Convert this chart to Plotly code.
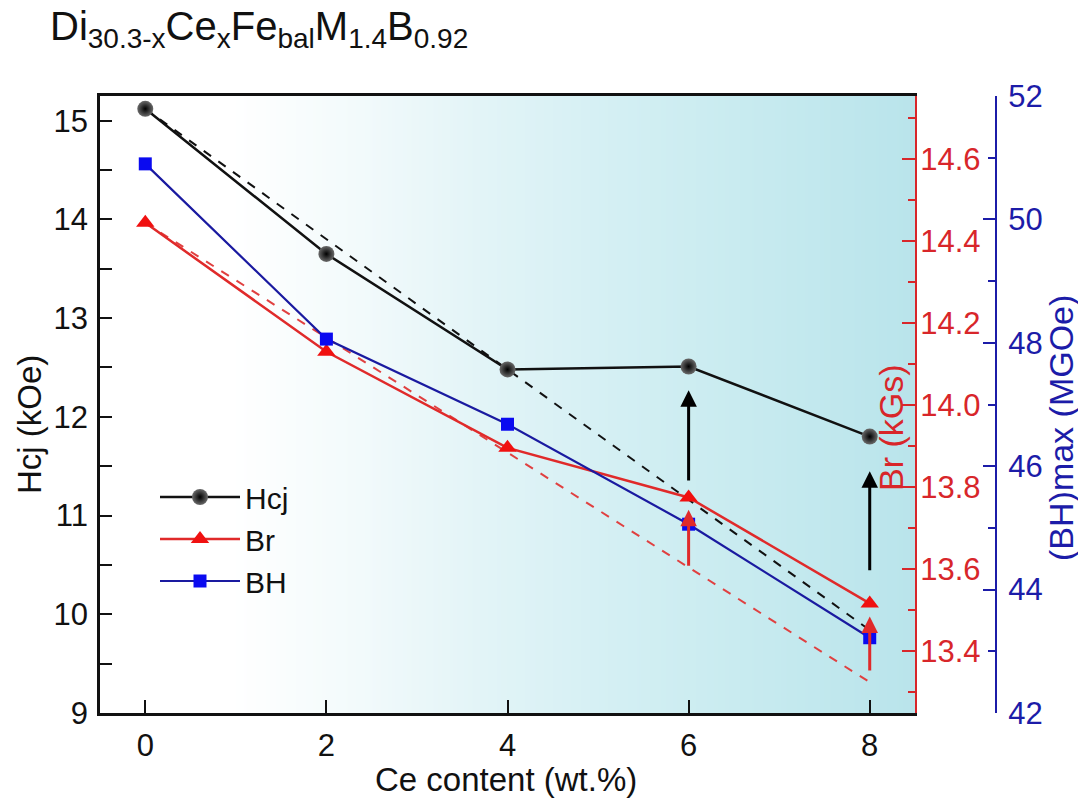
import numpy as np
import plotly.graph_objects as go

# ---------------- data ----------------
ce_content = [0, 2, 4, 6, 8]
hcj = [15.12, 13.65, 12.48, 12.51, 11.80]          # kOe (left axis)
br = [14.444, 14.13, 13.896, 13.775, 13.517]        # kGs (red axis)
bh = [50.90, 48.06, 46.68, 45.06, 43.22]            # MGOe (blue axis)

hcj_trend_x = [0, 8]
hcj_trend = [15.12, 9.84]
br_trend_x = [0, 8]
br_trend = [14.444, 13.325]

arrow_x = [6, 8]
hcj_arrow_from = [11.34, 10.43]
hcj_arrow_to = [12.27, 11.45]
br_arrow_from = [13.605, 13.35]
br_arrow_to = [13.745, 13.485]

x_ticks = [0, 2, 4, 6, 8]
title_text = "Di<sub>30.3-x</sub>Ce<sub>x</sub>Fe<sub>bal</sub>M<sub>1.4</sub>B<sub>0.92</sub>"

# ---------------- layout geometry ----------------
OFF = 8                      # page body margin
W, H = 1086 - OFF, 800 - OFF
L = 100 - OFF
T = 96 - OFF
plot_right = 915 - OFF
plot_bottom = 713 - OFF
B = H - plot_bottom
R = 50
pw = W - L - R
ph = H - T - B
blue_axis_px = 996 - OFF


def px(xp):
    """reference-window x pixel -> paper x"""
    return (xp - OFF - L) / pw


def py(yp):
    """reference-window y pixel -> paper y"""
    return (plot_bottom - (yp - OFF)) / ph


FONT = "Liberation Sans, Arial, sans-serif"
RED = "#d8262a"
BLUE = "#1c1ca8"
XR = [-0.5, 8.5]
Y1R = [9, 15.25]
Y2R = [13.25, 14.753]
Y3R = [42, 52]

fig = go.Figure()

# background gradient (decoration)
edges = np.linspace(XR[0], XR[1], 181)
centers = (edges[:-1] + edges[1:]) / 2
fig.add_trace(go.Heatmap(
    x=edges, y=Y1R, z=[centers], zsmooth="best",
    colorscale=[[0, "#ffffff"], [0.16, "#ffffff"], [0.32, "#f2fafb"],
                [0.47, "#e2f4f7"], [0.64, "#d3eff3"], [0.82, "#c6eaef"], [1, "#b9e4eb"]],
    zmin=XR[0], zmax=XR[1], showscale=False, hoverinfo="skip",
    xaxis="x", yaxis="y"))

# dashed trend lines
fig.add_trace(go.Scatter(x=hcj_trend_x, y=hcj_trend, mode="lines",
                         line=dict(color="#111111", width=2, dash="dash"),
                         showlegend=False, yaxis="y", hoverinfo="skip"))
fig.add_trace(go.Scatter(x=br_trend_x, y=br_trend, mode="lines",
                         line=dict(color="#e04040", width=2, dash="dash"),
                         showlegend=False, yaxis="y2", hoverinfo="skip"))

# main series
fig.add_trace(go.Scatter(
    x=ce_content, y=hcj, name="Hcj", mode="lines+markers", yaxis="y",
    legendgroup="a",
    line=dict(color="#111111", width=2.5),
    marker=dict(symbol="circle", size=16, color="#6a6a6a",
                gradient=dict(type="radial", color="#000000"),
                line=dict(width=0))))
fig.add_trace(go.Scatter(
    x=ce_content, y=br, name="Br", mode="lines+markers", yaxis="y2",
    legendgroup="b",
    line=dict(color="#e02a2a", width=2.5),
    marker=dict(symbol="triangle-up", size=16, color="#f01010", line=dict(width=0))))
fig.add_trace(go.Scatter(
    x=ce_content, y=bh, name="BH", mode="lines+markers", yaxis="y3",
    legendgroup="c",
    line=dict(color="#1a1aa0", width=2.2),
    marker=dict(symbol="square", size=13, color="#0a0af0", line=dict(width=0))))

annotations = []
for xa, y0, y1 in zip(arrow_x, hcj_arrow_from, hcj_arrow_to):
    annotations.append(dict(x=xa, y=y1, ax=xa, ay=y0, xref="x", yref="y",
                            axref="x", ayref="y", text="", showarrow=True,
                            arrowhead=2, arrowsize=1.1, arrowwidth=3,
                            arrowcolor="#000000"))
for xa, y0, y1 in zip(arrow_x, br_arrow_from, br_arrow_to):
    annotations.append(dict(x=xa, y=y1, ax=xa, ay=y0, xref="x", yref="y2",
                            axref="x", ayref="y2", text="", showarrow=True,
                            arrowhead=2, arrowsize=1.1, arrowwidth=3,
                            arrowcolor="#e02a2a"))

# axis titles as annotations
def title_ann(text, x, y, color, angle, size):
    return dict(text=text, x=px(x), y=py(y), xref="paper", yref="paper",
                xanchor="center", yanchor="middle", showarrow=False,
                textangle=angle, font=dict(size=size, color=color, family=FONT))


annotations += [
    title_ann("Hcj (kOe)", 29, 425, "#111111", -90, 33),
    title_ann("Br (kGs)", 891, 428, RED, -90, 34),
    title_ann("(BH)max (MGOe)", 1061, 428, BLUE, -90, 34),
    title_ann("Ce content (wt.%)", 506, 780, "#111111", 0, 33),
]

tickfont = dict(size=31, family=FONT, color="#111111")

fig.update_layout(
    width=W, height=H,
    margin=dict(l=L, r=R, t=T, b=B, autoexpand=False),
    paper_bgcolor="white",
    plot_bgcolor="white",
    font=dict(family=FONT, color="#111111"),
    title=dict(text=title_text, x=(50 - OFF) / W, xanchor="left", xref="container",
               y=1 - (12 - OFF) / H, yanchor="top", yref="container", automargin=False,
               font=dict(size=40, family=FONT, color="#111111")),
    xaxis=dict(domain=[0, (plot_right - L) / pw], range=XR, tickvals=x_ticks, automargin=False,
               showline=True, linecolor="#111111", linewidth=2.5, mirror=True,
               ticks="inside", ticklen=13, tickwidth=2, tickcolor="#111111",
               tickfont=tickfont, ticklabelstandoff=3, showgrid=False, zeroline=False),
    yaxis=dict(range=Y1R, tickvals=[9, 10, 11, 12, 13, 14, 15], automargin=False,
               showline=True, linecolor="#111111", linewidth=2.5,
               ticks="inside", ticklen=12, tickwidth=2, tickcolor="#111111",
               minor=dict(ticks="inside", ticklen=12, tickwidth=2, tickcolor="#111111", dtick=0.5),
               tickfont=tickfont, ticklabelstandoff=3, showgrid=False, zeroline=False),
    yaxis2=dict(range=Y2R, overlaying="y", side="right", anchor="x", automargin=False,
                tickvals=[13.4, 13.6, 13.8, 14.0, 14.2, 14.4, 14.6], tickformat=".1f",
                showline=True, linecolor=RED, linewidth=2,
                ticks="inside", ticklen=13, tickwidth=2, tickcolor=RED,
                minor=dict(ticks="inside", ticklen=7, tickwidth=2, tickcolor=RED, dtick=0.1, tick0=13.3),
                tickfont=dict(size=31, family=FONT, color=RED), ticklabelstandoff=-3,
                showgrid=False, zeroline=False),
    yaxis3=dict(range=Y3R, overlaying="y", side="right", anchor="free", automargin=False,
                position=(blue_axis_px - L) / pw,
                tickvals=[42, 44, 46, 48, 50, 52],
                showline=True, linecolor=BLUE, linewidth=2,
                ticks="inside", ticklen=12, tickwidth=2, tickcolor=BLUE,
                minor=dict(ticks="inside", ticklen=7, tickwidth=2, tickcolor=BLUE, dtick=1),
                tickfont=dict(size=31, family=FONT, color=BLUE), ticklabelstandoff=5,
                showgrid=False, zeroline=False),
    legend=dict(x=px(155), y=py(471), xanchor="left", yanchor="top",
                bgcolor="rgba(0,0,0,0)", borderwidth=0, itemwidth=80,
                tracegroupgap=0, font=dict(size=30, family=FONT, color="#111111")),
    annotations=annotations,
    showlegend=True,
)

fig.write_html("out.html")
